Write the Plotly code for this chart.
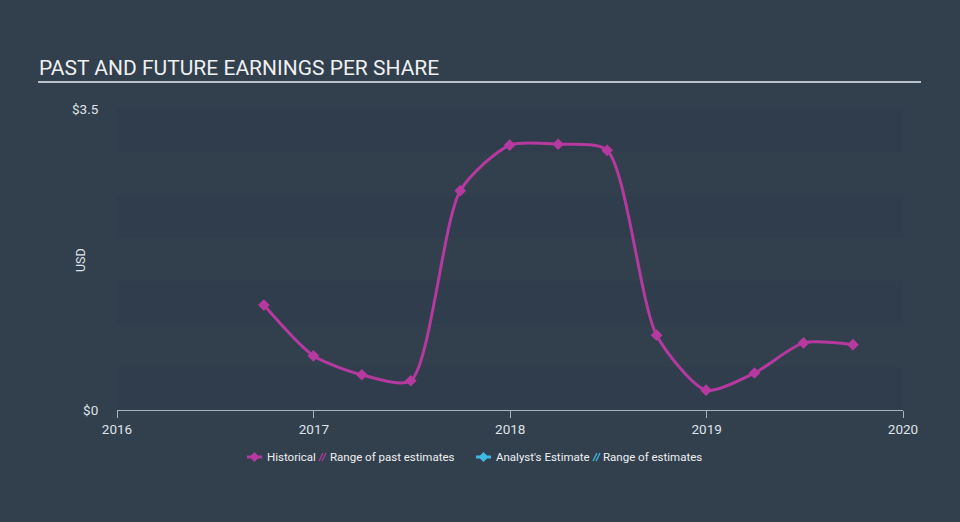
import plotly.graph_objects as go

# ---- data ----
dates = ["2016-09-30", "2016-12-31", "2017-03-31", "2017-06-30", "2017-09-30",
         "2017-12-31", "2018-03-31", "2018-06-30", "2018-09-30", "2018-12-31",
         "2019-03-31", "2019-06-30", "2019-09-30"]
eps = [1.22, 0.63, 0.41, 0.34, 2.55, 3.08, 3.09, 3.02, 0.87, 0.23, 0.43, 0.78, 0.76]
y_ticks = [0, 3.5]
y_tick_labels = ["$0", "$3.5"]
x_ticks = ["2016-01-01", "2017-01-01", "2018-01-01", "2019-01-01", "2020-01-01"]
x_tick_labels = ["2016", "2017", "2018", "2019", "2020"]
bands = [(0, 0.5), (1.0, 1.5), (2.0, 2.5), (3.0, 3.5)]
legend_labels = ["Historical", "Range of past estimates", "Analyst's Estimate", "Range of estimates"]

W, H = 960, 522
L, R, T, B = 117, 57, 109, 112
PW, PH = W - L - R, H - T - B

def px(x):
    return (x - L) / PW

def py(y):
    return (H - B - y) / PH

MAG = "#b5399f"
CYAN = "#3fb8e3"
BG = "#323f4d"
TXT = "#dfe3e7"

fig = go.Figure()
fig.add_trace(go.Scatter(
    x=dates, y=eps, mode="lines+markers",
    line=dict(color=MAG, width=3, shape="spline", smoothing=0.7),
    marker=dict(symbol="diamond", size=9, color=MAG),
    hoverinfo="skip", showlegend=False,
))

shapes = []
for lo, hi in bands:
    shapes.append(dict(type="rect", xref="paper", yref="y", x0=0, x1=1, y0=lo, y1=hi,
                       fillcolor="rgba(20,30,40,0.09)", line=dict(width=0), layer="below"))
shapes.append(dict(type="rect", xref="paper", yref="paper", x0=0, x1=1, y0=0, y1=1,
                   fillcolor="rgba(60,75,90,0.12)", line=dict(width=0), layer="below"))
# title underline
shapes.append(dict(type="line", xref="paper", yref="paper", x0=px(38), x1=px(921),
                   y0=py(82), y1=py(82), line=dict(color="#b9c0c7", width=2)))

annotations = [
    dict(text="PAST AND FUTURE EARNINGS PER SHARE", xref="paper", yref="paper",
         x=px(37), y=py(68), xanchor="left", yanchor="middle", showarrow=False,
         font=dict(family="Roboto", size=21, color="#eef0f2")),
    dict(text="USD", xref="paper", yref="paper", x=px(80), y=py(260), textangle=-90,
         xanchor="center", yanchor="middle", showarrow=False,
         font=dict(family="Roboto", size=12.5, color=TXT)),
]

# legend (manual)
ly = 457
def line_icon(x0, color):
    shapes.append(dict(type="line", xref="paper", yref="paper", x0=px(x0), x1=px(x0 + 15),
                       y0=py(ly), y1=py(ly), line=dict(color=color, width=3)))
    cx = x0 + 7.5
    path = f"M {px(cx)} {py(ly-5)} L {px(cx+5)} {py(ly)} L {px(cx)} {py(ly+5)} L {px(cx-5)} {py(ly)} Z"
    shapes.append(dict(type="path", xref="paper", yref="paper", path=path,
                       fillcolor=color, line=dict(width=0)))

def hatch_icon(x0, color):
    for k in range(2):
        a = x0 + k * 3
        shapes.append(dict(type="line", xref="paper", yref="paper", x0=px(a), x1=px(a + 4),
                           y0=py(ly + 4), y1=py(ly - 4), line=dict(color=color, width=1.2)))

def leg_text(x0, t):
    annotations.append(dict(text=t, xref="paper", yref="paper", x=px(x0), y=py(ly),
                            xanchor="left", yanchor="middle", showarrow=False,
                            font=dict(family="Roboto", size=11.5, color="#eef0f2")))

line_icon(247, MAG); leg_text(265, legend_labels[0])
hatch_icon(319, MAG); leg_text(328, legend_labels[1])
line_icon(476, CYAN); leg_text(494, legend_labels[2])
hatch_icon(593, CYAN); leg_text(601, legend_labels[3])

fig.update_layout(
    width=W, height=H,
    margin=dict(l=L, r=R, t=T, b=B, pad=0),
    paper_bgcolor=BG, plot_bgcolor="rgba(0,0,0,0)",
    showlegend=False,
    shapes=shapes, annotations=annotations,
    font=dict(family="Roboto", color=TXT, size=12),
    xaxis=dict(type="date", range=["2016-01-01", "2020-01-01"],
               tickvals=x_ticks, ticktext=x_tick_labels,
               showgrid=False, zeroline=False,
               showline=True, linecolor="#a9b4bf", linewidth=1,
               ticks="outside", ticklen=7, tickcolor="#a9b4bf", tickwidth=1,
               tickfont=dict(family="Roboto", size=13.5, color=TXT)),
    yaxis=dict(range=[0, 3.5], tickvals=y_ticks, ticktext=y_tick_labels,
               showgrid=False, zeroline=False, showline=False,
               ticks="outside", ticklen=15, tickcolor="rgba(0,0,0,0)",
               tickfont=dict(family="Roboto", size=13.5, color=TXT)),
)

fig.write_html("out.html", config={"displayModeBar": False},
               post_script="document.body.style.margin='0';")
